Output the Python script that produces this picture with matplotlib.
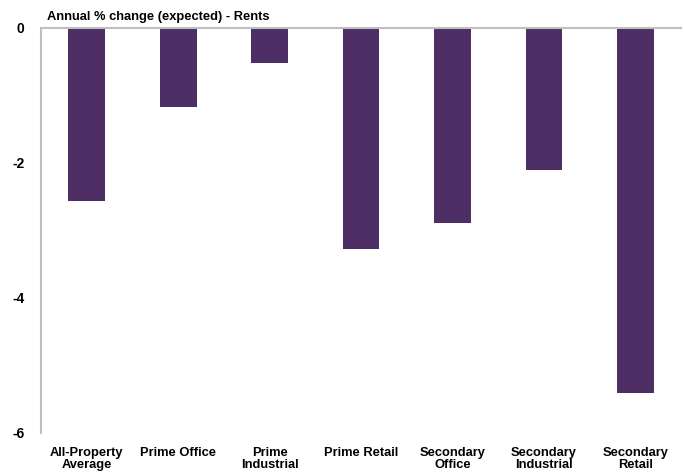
import matplotlib.pyplot as plt
import numpy as np

# data
categories = ['All-Property\nAverage', 'Prime Office', 'Prime\nIndustrial', 'Prime Retail',
              'Secondary\nOffice', 'Secondary\nIndustrial', 'Secondary\nRetail']
rents = [-2.56, -1.17, -0.52, -3.27, -2.89, -2.10, -5.41]
yticks = [0, -2, -4, -6]

plt.rcParams['font.family'] = ['Liberation Sans', 'DejaVu Sans']

fig = plt.figure(figsize=(6.84, 4.73), dpi=100)
ax = fig.add_axes([0.06, 0.085, 0.936, 0.856])

x = np.arange(len(categories))
ax.bar(x, rents, width=0.4, color='#4d2f66')

ax.set_xlim(-0.5, len(categories) - 0.5)
ax.set_ylim(-6, 0)
ax.set_yticks(yticks)
ax.set_yticklabels([str(t) for t in yticks], fontweight='bold', fontsize=10)
ax.set_xticks(x)
ax.set_xticklabels(categories, fontweight='bold', fontsize=9.3, linespacing=1.0)
ax.tick_params(axis='both', length=0)
ax.tick_params(axis='x', pad=10)
ax.tick_params(axis='y', pad=12)

for s in ['right', 'bottom']:
    ax.spines[s].set_visible(False)
ax.spines['left'].set_color('#bfbfbf')
ax.spines['left'].set_linewidth(1.5)
ax.spines['top'].set_color('#bfbfbf')
ax.spines['top'].set_linewidth(1.5)

ax.text(0.01, 1.012, 'Annual % change (expected) - Rents', transform=ax.transAxes,
        fontsize=9.3, fontweight='bold', va='bottom', ha='left')

fig.savefig('out.png', dpi=100)
